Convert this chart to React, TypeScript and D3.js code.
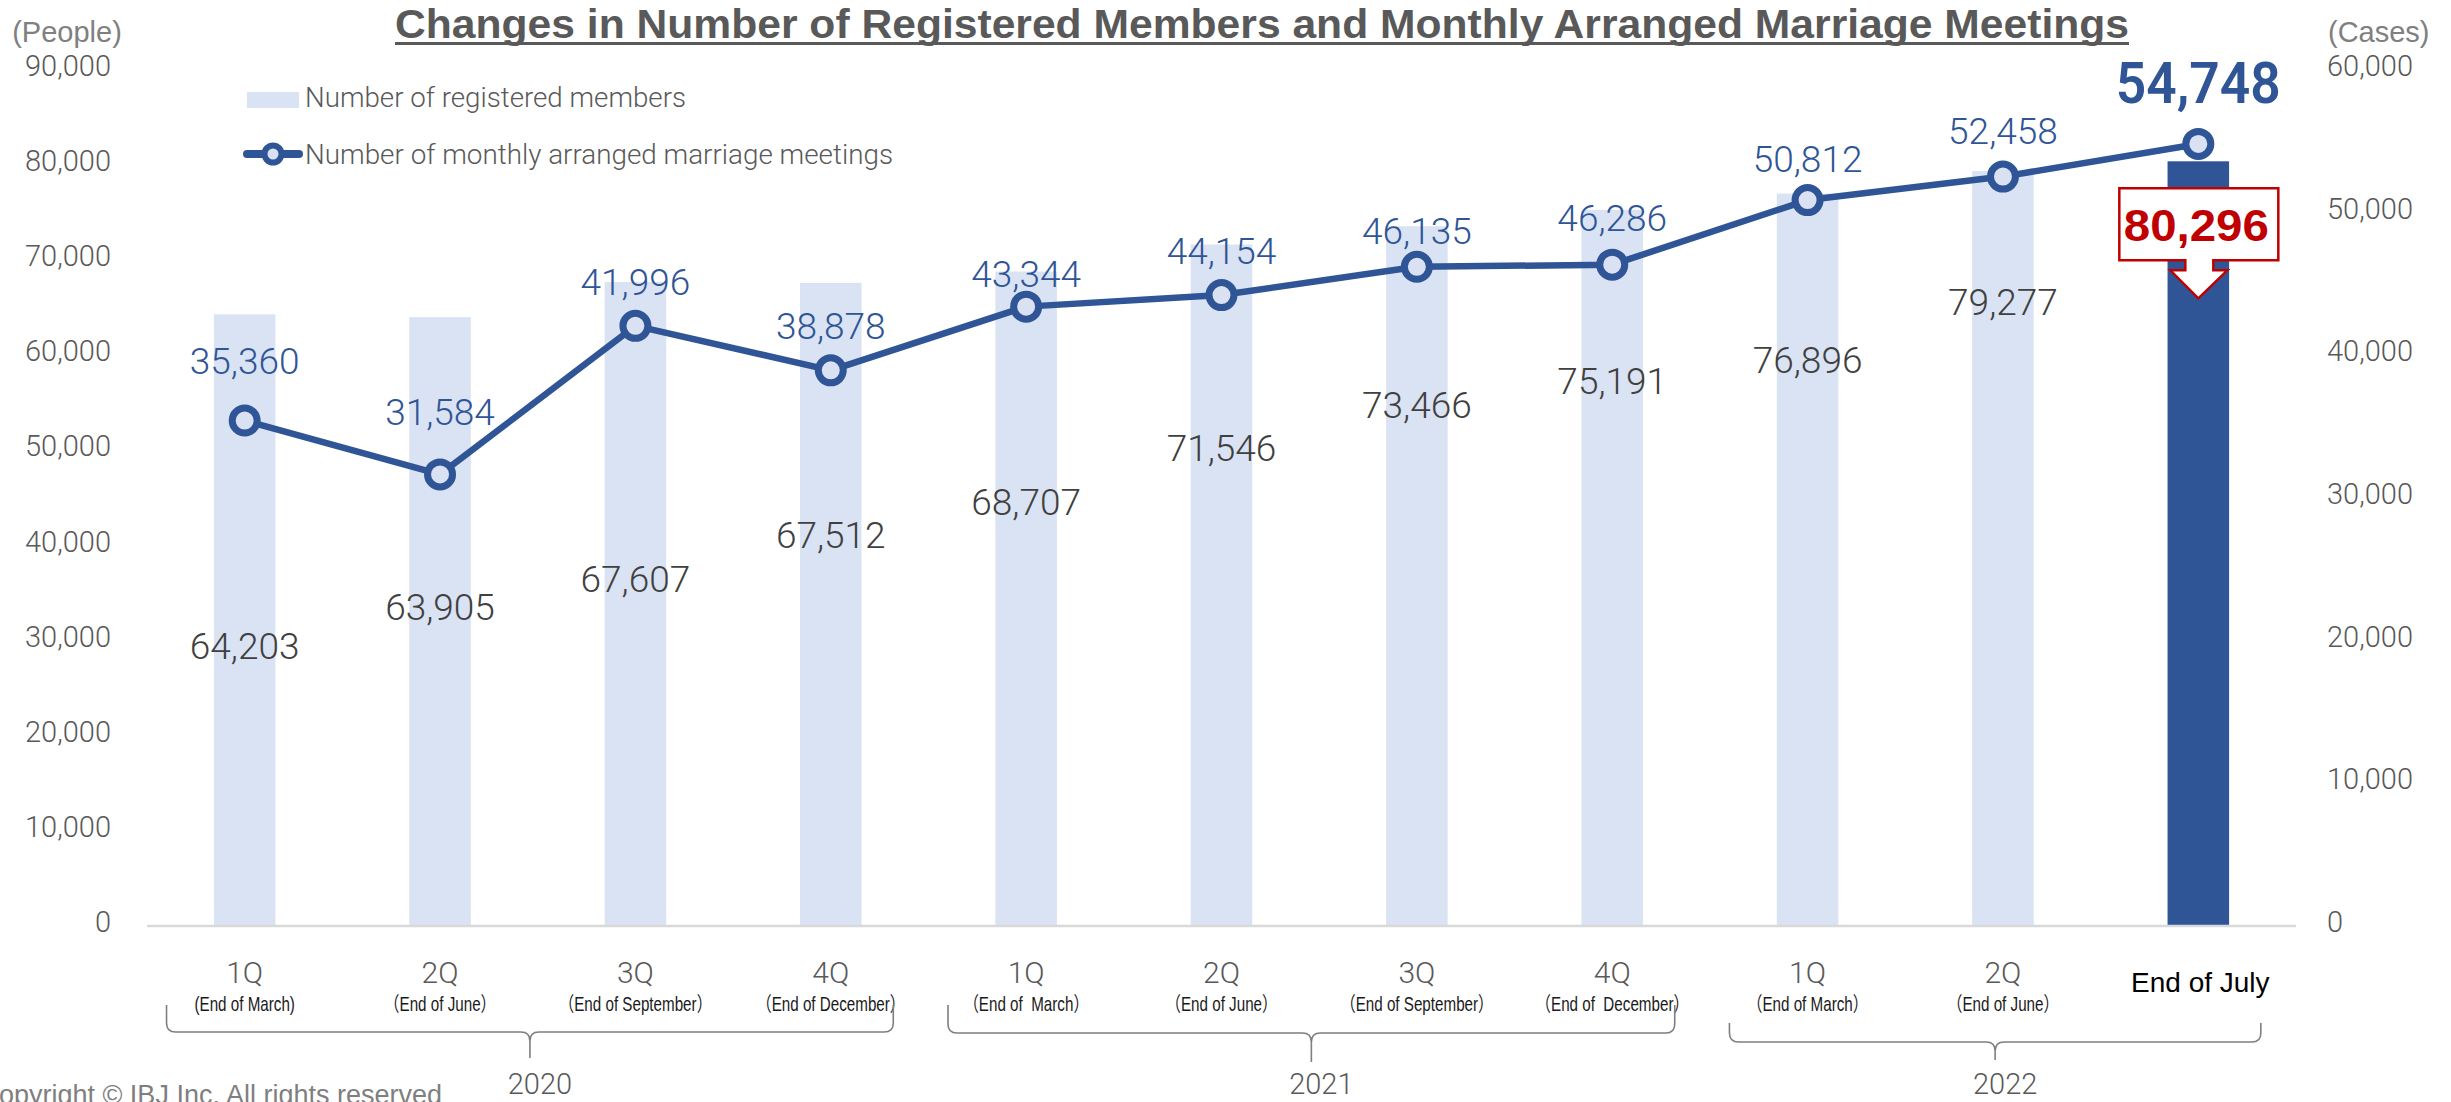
import React from "react";
import * as d3 from "d3";

// ---------- data ----------
const categories = ["1Q", "2Q", "3Q", "4Q", "1Q", "2Q", "3Q", "4Q", "1Q", "2Q", "End of July"];
const subLabels = [
  "(End of March)",
  "（End of June）",
  "（End of September）",
  "（End of December）",
  "（End of  March）",
  "（End of June）",
  "（End of September）",
  "（End of  December）",
  "（End of March）",
  "（End of June）",
  "",
];
const members = [64203, 63905, 67607, 67512, 68707, 71546, 73466, 75191, 76896, 79277, 80296];
const meetings = [35360, 31584, 41996, 38878, 43344, 44154, 46135, 46286, 50812, 52458, 54748];
const yearLabels = ["2020", "2021", "2022"];
const yearFirst = [0, 4, 8];
const yearLast = [3, 7, 10];
const leftTicks = [0, 10000, 20000, 30000, 40000, 50000, 60000, 70000, 80000, 90000];
const rightTicks = [0, 10000, 20000, 30000, 40000, 50000, 60000];

// ---------- layout (manual label placements, as in the original) ----------
const memberLabelAt = [29300, 33400, 36400, 41000, 44500, 50200, 54700, 57200, 59400, 65500];
const meetingLabelOffset = [-60, -62, -44, -44, -33, -44, -36, -47, -41, -46];
const braceY = [
  [1005, 1032, 1058],
  [1005, 1033, 1062],
  [1023, 1042, 1060],
];

const W = 2451;
const H = 1102;
const BLUE = "#2F5597";
const LIGHT = "#DAE3F3";
const GRAY = "#595959";
const NUM_FONT = "Roboto, 'Noto Sans', sans-serif";
const ARIAL = "'Liberation Sans', Arial, sans-serif";

function bracePath(x1: number, x2: number, xm: number, yTop: number, yH: number, yTip: number) {
  const r = 9;
  return [
    `M${x1},${yTop}`,
    `L${x1},${yH - r}`,
    `Q${x1},${yH} ${x1 + r},${yH}`,
    `L${xm - r},${yH}`,
    `Q${xm},${yH} ${xm},${yH + r}`,
    `L${xm},${yTip}`,
    `M${xm},${yH + r}`,
    `Q${xm},${yH} ${xm + r},${yH}`,
    `L${x2 - r},${yH}`,
    `Q${x2},${yH} ${x2},${yH - r}`,
    `L${x2},${yTop}`,
  ].join(" ");
}

export default function App() {
  const x = d3
    .scaleBand<number>()
    .domain(categories.map((_, i) => i))
    .range([147, 2296])
    .paddingInner(0.685)
    .paddingOuter(0.3425);
  const step = x.step();
  const cx = (i: number) => (x(i) as number) + x.bandwidth() / 2;
  const yL = d3.scaleLinear().domain([0, 90000]).range([925, 69]);
  const yR = d3.scaleLinear().domain([0, 60000]).range([925, 69]);
  const fmt = d3.format(",");

  const line = d3
    .line<number>()
    .x((_, i) => cx(i))
    .y((d) => yR(d));

  const last = categories.length - 1;
  const lastX = cx(last);
  const lastTop = yL(members[last]);
  // callout geometry relative to last bar
  const bx1 = lastX - 79;
  const bx2 = lastX + 80;
  const by1 = lastTop + 27;
  const by2 = by1 + 72;
  const calloutPath = [
    `M${bx1},${by1}`,
    `H${bx2}`,
    `V${by2}`,
    `H${lastX + 15}`,
    `V${by2 + 10}`,
    `H${lastX + 29}`,
    `L${lastX},${by2 + 38}`,
    `L${lastX - 28},${by2 + 10}`,
    `H${lastX - 13}`,
    `V${by2}`,
    `H${bx1}`,
    "Z",
  ].join(" ");

  return (
    <svg
      width={W}
      height={H}
      viewBox={`0 0 ${W} ${H}`}
      style={{ position: "absolute", left: 0, top: 0, background: "#fff" }}
    >
      <rect x={0} y={0} width={W} height={H} fill="#fff" />

      {/* Title */}
      <text
        x={395}
        y={38}
        fontFamily={ARIAL}
        fontWeight="bold"
        fontSize={41}
        fill={GRAY}
        textLength={1734}
        lengthAdjust="spacingAndGlyphs"
      >
        Changes in Number of Registered Members and Monthly Arranged Marriage Meetings
      </text>
      <line x1={395} x2={2129} y1={43.5} y2={43.5} stroke={GRAY} strokeWidth={3} />

      {/* Axis titles */}
      <text x={67} y={42} textAnchor="middle" fontFamily={ARIAL} fontSize={29} fill="#808080">
        (People)
      </text>
      <text x={2328} y={42} fontFamily={ARIAL} fontSize={29} fill="#808080">
        (Cases)
      </text>

      {/* Left ticks */}
      {leftTicks.map((t) => (
        <text
          key={"l" + t}
          x={111}
          y={yL(t) + 7}
          textAnchor="end"
          fontFamily={NUM_FONT}
          fontWeight={300}
          fontSize={29}
          fill={GRAY}
        >
          {fmt(t)}
        </text>
      ))}
      {/* Right ticks */}
      {rightTicks.map((t) => (
        <text
          key={"r" + t}
          x={2327}
          y={yR(t) + 7}
          fontFamily={NUM_FONT}
          fontWeight={300}
          fontSize={29}
          fill={GRAY}
        >
          {fmt(t)}
        </text>
      ))}

      {/* Legend */}
      <rect x={247} y={92} width={52} height={16} fill={LIGHT} />
      <text
        x={305}
        y={107}
        fontFamily={NUM_FONT}
        fontWeight={300}
        fontSize={28}
        fill={GRAY}
        textLength={381}
        lengthAdjust="spacingAndGlyphs"
      >
        Number of registered members
      </text>
      <line x1={247} x2={299} y1={154} y2={154} stroke={BLUE} strokeWidth={8} strokeLinecap="round" />
      <circle cx={273} cy={154} r={8.5} fill="#D9E1F2" stroke={BLUE} strokeWidth={6} />
      <text
        x={305}
        y={164}
        fontFamily={NUM_FONT}
        fontWeight={300}
        fontSize={28}
        fill={GRAY}
        textLength={588}
        lengthAdjust="spacingAndGlyphs"
      >
        Number of monthly arranged marriage meetings
      </text>

      {/* Bars */}
      {members.map((v, i) => (
        <rect
          key={"b" + i}
          x={x(i)}
          y={yL(v)}
          width={x.bandwidth()}
          height={yL(0) - yL(v)}
          fill={i === last ? BLUE : LIGHT}
        />
      ))}

      {/* Baseline */}
      <line x1={147} x2={2296} y1={926} y2={926} stroke="#D9D9D9" strokeWidth={2.5} />

      {/* Member labels */}
      {members.slice(0, last).map((v, i) => (
        <text
          key={"ml" + i}
          x={cx(i)}
          y={yL(memberLabelAt[i]) + 13}
          textAnchor="middle"
          fontFamily={NUM_FONT}
          fontWeight={300}
          fontSize={37}
          fill="#404040"
        >
          {fmt(v)}
        </text>
      ))}

      {/* Meetings line */}
      <path d={line(meetings) || ""} fill="none" stroke={BLUE} strokeWidth={6.5} strokeLinejoin="round" />
      {meetings.map((v, i) => (
        <circle key={"c" + i} cx={cx(i)} cy={yR(v)} r={12.5} fill="#D9E1F2" stroke={BLUE} strokeWidth={7} />
      ))}
      {meetings.slice(0, last).map((v, i) => (
        <text
          key={"tl" + i}
          x={cx(i)}
          y={yR(v) + meetingLabelOffset[i] + 13}
          textAnchor="middle"
          fontFamily={NUM_FONT}
          fontWeight={300}
          fontSize={37}
          fill={BLUE}
        >
          {fmt(v)}
        </text>
      ))}
      <text
        x={lastX}
        y={yR(meetings[last]) - 41}
        textAnchor="middle"
        fontFamily={NUM_FONT}
        fontWeight={600}
        fontSize={57}
        fill={BLUE}
        textLength={165}
        lengthAdjust="spacingAndGlyphs"
      >
        {fmt(meetings[last])}
      </text>

      {/* Callout for last bar */}
      <path d={calloutPath} fill="#fff" stroke="#C00000" strokeWidth={2.5} strokeLinejoin="miter" />
      <text
        x={lastX - 2}
        y={by1 + 53}
        textAnchor="middle"
        fontFamily={ARIAL}
        fontWeight="bold"
        fontSize={45}
        fill="#C00000"
        textLength={145}
        lengthAdjust="spacingAndGlyphs"
      >
        {fmt(members[last])}
      </text>

      {/* Category labels */}
      {categories.map((c, i) =>
        i === last ? (
          <text key={"cat" + i} x={cx(i) + 2} y={992} textAnchor="middle" fontFamily={ARIAL} fontSize={28} fill="#000">
            {c}
          </text>
        ) : (
          <text
            key={"cat" + i}
            x={cx(i)}
            y={983}
            textAnchor="middle"
            fontFamily={NUM_FONT}
            fontWeight={300}
            fontSize={30}
            fill={GRAY}
          >
            {c}
          </text>
        )
      )}
      {subLabels.map((s, i) =>
        s ? (
          <text
            key={"sub" + i}
            transform={`translate(${cx(i)},1011) scale(0.76,1)`}
            textAnchor="middle"
            fontFamily={`${ARIAL}, 'Noto Sans CJK JP'`}
            fontSize={20}
            fill="#1a1a1a"
            style={{ whiteSpace: "pre" }}
          >
            {s}
          </text>
        ) : null
      )}

      {/* Year braces */}
      {yearLabels.map((yl, k) => {
        const x1 = cx(yearFirst[k]) - 0.4 * step;
        const x2 = cx(yearLast[k]) + 0.32 * step;
        const xm = (x1 + x2) / 2;
        const [yTop, yH, yTip] = braceY[k];
        return (
          <g key={"yr" + k}>
            <path d={bracePath(x1, x2, xm, yTop, yH, yTip)} fill="none" stroke="#7F7F7F" strokeWidth={1.6} />
            <text
              x={xm + 10}
              y={1094}
              textAnchor="middle"
              fontFamily={NUM_FONT}
              fontWeight={300}
              fontSize={29}
              fill={GRAY}
            >
              {yl}
            </text>
          </g>
        );
      })}

      {/* Copyright */}
      <text x={442} y={1104} textAnchor="end" fontFamily={ARIAL} fontSize={27} fill="#7F7F7F">
        Copyright © IBJ Inc. All rights reserved
      </text>
    </svg>
  );
}
